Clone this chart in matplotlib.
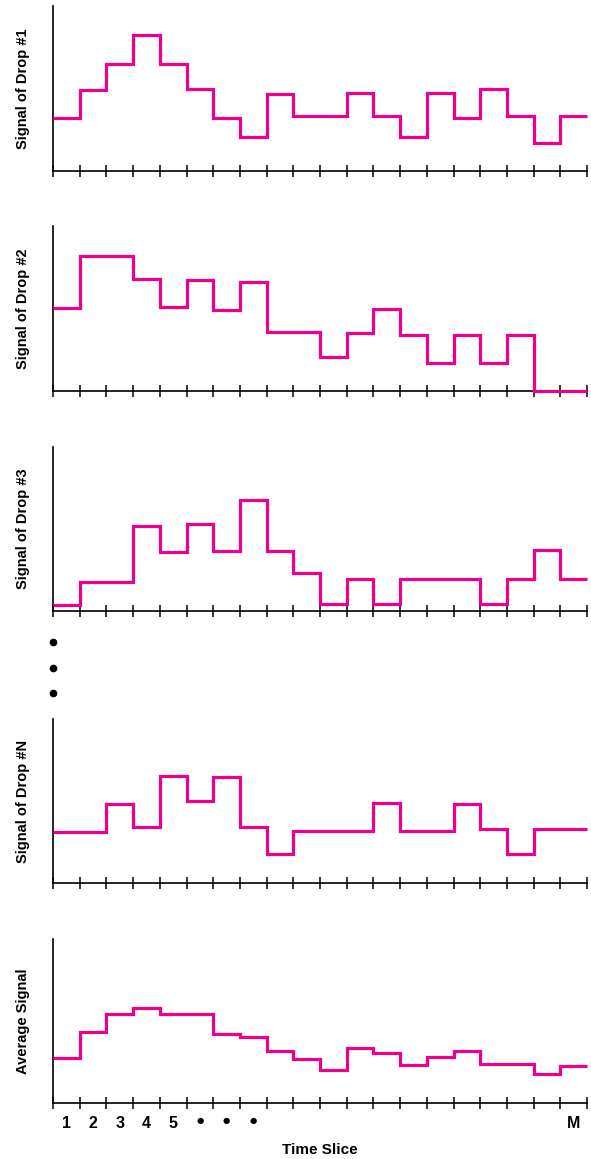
import numpy as np
import matplotlib
matplotlib.use("Agg")
import matplotlib.pyplot as plt
from matplotlib.lines import Line2D

# ---- data (signal heights per time slice, arbitrary units) ----
slices = np.arange(21)  # edges of 20 time slices
drop1 = [53, 81, 107, 136, 107, 82, 53, 34, 77, 55, 55, 78, 55, 34, 78, 53, 82, 55, 28, 55]
drop2 = [83, 135, 135, 112, 84, 111, 81, 109, 59, 59, 34, 58, 82, 56, 28, 56, 28, 56, 0, 0]
drop3 = [6, 29, 29, 85, 59, 87, 60, 111, 60, 38, 7, 32, 7, 32, 32, 32, 7, 32, 61, 32]
dropN = [51, 51, 79, 56, 107, 82, 106, 56, 29, 52, 52, 52, 80, 52, 52, 79, 54, 29, 54, 54]
average = [45, 71, 89, 95, 89, 89, 69, 66, 52, 44, 33, 55, 50, 38, 46, 52, 39, 39, 29, 37]

series = [drop1, drop2, drop3, dropN, average]
ylabels = ["Signal of Drop #1", "Signal of Drop #2", "Signal of Drop #3",
           "Signal of Drop #N", "Average Signal"]
tick_label_pos = [0.5, 1.5, 2.5, 3.5, 4.5, 5.5, 6.5, 7.5, 19.5]
tick_labels = ["1", "2", "3", "4", "5", "\u25CF", "\u25CF", "\u25CF", "M"]
xlabel = "Time Slice"

W, H = 591, 1159
fig = plt.figure(figsize=(W / 100, H / 100), dpi=100)
plt.rcParams['font.family'] = ['Liberation Sans', 'DejaVu Sans']

color = '#EC008C'
# panel (top_px, bottom_px)
panels = [(6, 171), (226, 391), (447, 611), (719, 883), (939, 1103)]
x0, x1 = 53, 587

for i, ((top, bot), vals, lab) in enumerate(zip(panels, series, ylabels)):
    ax = fig.add_axes([x0 / W, (H - bot) / H, (x1 - x0) / W, (bot - top) / H])
    ax.stairs(vals, slices, baseline=None, color=color, linewidth=2.3, clip_on=False, zorder=3)
    ax.set_xlim(0, 20)
    ax.set_ylim(0, bot - top)
    for s in ['top', 'right']:
        ax.spines[s].set_visible(False)
    for s in ['left', 'bottom']:
        ax.spines[s].set_linewidth(1.2)
        ax.spines[s].set_color('black')
    ax.set_yticks([])
    ax.set_xticks(slices)
    ax.tick_params(axis='x', which='major', direction='inout', length=9, width=1.1,
                   labelbottom=False, color='black')
    ax.set_ylabel(lab, fontsize=10.5, fontweight='bold')
    ax.yaxis.set_label_coords(-23 / (x1 - x0), 0.5)
    ax.patch.set_alpha(0)
    if i == len(series) - 1:
        ax.set_xticks(tick_label_pos, tick_labels, minor=True)
        ax.tick_params(axis='x', which='minor', length=0, pad=9, labelsize=11.5)
        for t in ax.get_xticklabels(minor=True):
            t.set_fontweight('bold')
            if t.get_text() == "\u25CF":
                t.set_fontsize(6)
                t.set_family(['DejaVu Sans'])
        ax.set_xlabel(xlabel, fontsize=11, fontweight='bold', labelpad=9)

# vertical ellipsis between panels 3 and N
for yy in [642, 668, 693]:
    fig.add_artist(Line2D([x0 / W], [(H - yy) / H], marker='o', markersize=4.5,
                          color='black', linestyle='none', transform=fig.transFigure))

fig.savefig("out.png", dpi=100)
